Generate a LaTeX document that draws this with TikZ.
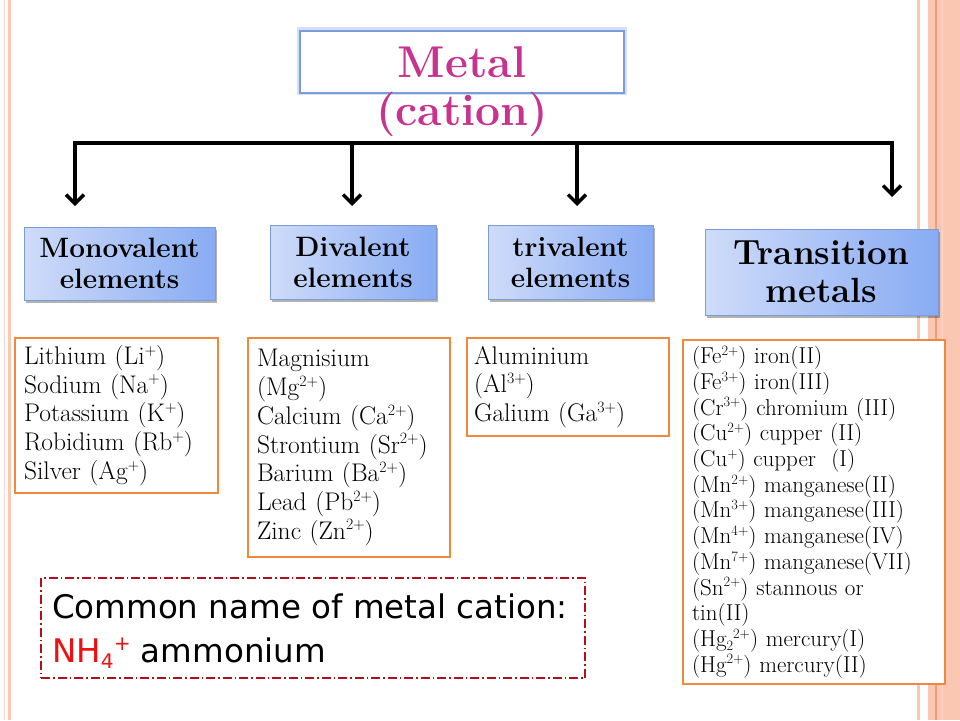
\documentclass[tikz,border=0pt]{standalone}
\usepackage{fontspec}
\usepackage{graphicx}
\newfontfamily\comicfont{DejaVu Sans}
\usetikzlibrary{arrows.meta,shadows}
\newcommand{\ionup}[1]{\raisebox{0.36em}{\scalebox{0.62}{#1}}}
\newcommand{\iondn}[1]{\raisebox{-0.18em}{\scalebox{0.62}{#1}}}
\definecolor{stripe}{HTML}{F9C7B2}
\definecolor{stripedark}{HTML}{EE9E7E}
\definecolor{stripelight}{HTML}{FBD5C6}
\definecolor{metalmag}{HTML}{C8338F}
\definecolor{metalborder}{HTML}{7B9CDB}
\definecolor{metalglow}{HTML}{D3E0F7}
\definecolor{bluelight}{HTML}{CFDCF9}
\definecolor{bluedark}{HTML}{88ABF3}
\definecolor{blueborder}{HTML}{7D9BD6}
\definecolor{orangeborder}{HTML}{F0893C}
\definecolor{dashred}{HTML}{B0101E}
\definecolor{nhred}{HTML}{EE1111}
\tikzset{
  bluebox/.style={draw=blueborder, line width=0.8pt, left color=bluelight, right color=bluedark,
    drop shadow={shadow xshift=1.5pt, shadow yshift=-3pt, opacity=0.3, fill=black},
    align=center, inner sep=0pt, font=\bfseries\fontsize{28}{31}\selectfont},
  orangebox/.style={draw=orangeborder, line width=2.5pt, fill=white, align=left,
    inner xsep=9pt, inner ysep=0pt, font=\fontsize{25.5}{28.7}\selectfont},
  conn/.style={line width=3.5pt, line join=miter, black},
  tipb/.style={-{Straight Barb[length=9pt,width=18pt]}},
  tipbb/.style={{Straight Barb[length=9pt,width=18pt]}-{Straight Barb[length=9pt,width=18pt]}},
  dashbox/.style={draw=dashred, line width=1.5pt, dash pattern=on 9pt off 3pt on 1.5pt off 3pt, inner sep=0pt},
  notetext/.style={align=left, inner sep=0pt, font=\comicfont\fontsize{32.5}{44}\selectfont}
}
\begin{document}
\begin{tikzpicture}[x=1pt,y=-1pt]
\useasboundingbox (0,0) rectangle (960,720);
\fill[white] (0,0) rectangle (960,720);
% page decoration stripes
\draw[stripelight, line width=1pt] (4.5,0) -- (4.5,720);
\fill[stripe] (7.5,0) rectangle (11,720);
\fill[stripe] (917,0) rectangle (920,720);
\fill[stripe] (928,0) rectangle (960,720);
\draw[stripedark, line width=1.5pt] (936,0) -- (936,720);
\draw[stripelight, line width=1pt] (942,0) -- (942,720);

% title
\draw[metalglow, line width=6pt] (300,30) rectangle (624,92);
\node[draw=metalborder, line width=2.5pt, fill=white, minimum width=324pt, minimum height=62pt,
  inner sep=0pt, text=metalmag, font=\bfseries\fontsize{44.5}{48}\selectfont] (metal) at (462,62) {Metal};
\node[text=metalmag, font=\bfseries\fontsize{44.5}{48}\selectfont, inner sep=0pt] (cation) at (462,114) {(cation)};

% connectors
\coordinate (c1) at (75,143);
\coordinate (c2) at (352,143);
\coordinate (c3) at (577,143);
\coordinate (c4) at (892,143);
\coordinate (t1) at (75,206);
\coordinate (t2) at (352,206);
\coordinate (t3) at (577,206);
\coordinate (t4) at (892,197);
\draw[conn, tipbb] (t1) -- (c1) -- (c4) -- (t4);
\draw[conn, tipb] (c2) -- (t2);
\draw[conn, tipb] (c3) -- (t3);

% category boxes
\node[bluebox, minimum width=191pt, minimum height=73pt] (mono) at (119.5,263.5) {Monovalent\\elements};
\node[bluebox, minimum width=166pt, minimum height=74pt] (di) at (353,262) {Divalent\\elements};
\node[bluebox, minimum width=165pt, minimum height=74pt] (tri) at (570.5,262) {trivalent\\elements};
\node[bluebox, minimum width=233pt, minimum height=86pt, font=\bfseries\fontsize{35}{38}\selectfont] (trans) at (821.5,272) {Transition\\metals};

% lists
\node[orangebox, text width=185pt, minimum height=155pt] (l1) at (116.5,415.5) {Lithium (Li\ionup{+})\\Sodium (Na\ionup{+})\\Potassium (K\ionup{+})\\Robidium (Rb\ionup{+})\\Silver (Ag\ionup{+})};
\node[orangebox, text width=184pt, minimum height=219pt] (l2) at (349,447.5) {Magnisium\\(Mg\ionup{2+})\\Calcium (Ca\ionup{2+})\\Strontium (Sr\ionup{2+})\\Barium (Ba\ionup{2+})\\Lead (Pb\ionup{2+})\\Zinc (Zn\ionup{2+})};
\node[orangebox, text width=188pt, inner xsep=7pt, minimum height=98pt] (l3) at (568,387) {Aluminium\\(Al\ionup{3+})\\Galium (Ga\ionup{3+})};
\node[orangebox, text width=244pt, minimum height=344pt, font=\fontsize{23}{25.7}\selectfont] (l4) at (814,512) {(Fe\ionup{2+}) iron(II)\\(Fe\ionup{3+}) iron(III)\\(Cr\ionup{3+}) chromium (III)\\(Cu\ionup{2+}) cupper (II)\\(Cu\ionup{+}) cupper\ \ (I)\\(Mn\ionup{2+}) manganese(II)\\(Mn\ionup{3+}) manganese(III)\\(Mn\ionup{4+}) manganese(IV)\\(Mn\ionup{7+}) manganese(VII)\\(Sn\ionup{2+}) stannous or\\tin(II)\\(Hg\iondn{2}\ionup{2+}) mercury(I)\\(Hg\ionup{2+}) mercury(II)};

% note
\node[dashbox, minimum width=544pt, minimum height=100pt] (note) at (313,628) {};
\node[notetext, anchor=west] (notetxt) at (52,631) {Common name of metal cation:\\\textcolor{nhred}{NH\iondn{4}\ionup{+}} ammonium};
\end{tikzpicture}
\end{document}
